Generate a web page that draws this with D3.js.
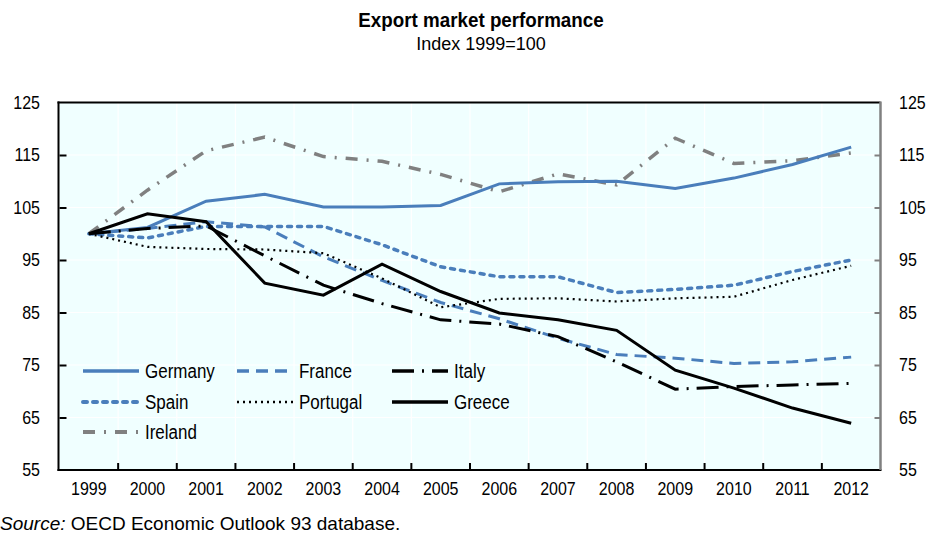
<!DOCTYPE html>
<html>
<head>
<meta charset="utf-8">
<script src="https://cdn.jsdelivr.net/npm/d3@7"></script>
<style>
  html, body { margin: 0; padding: 0; background: #ffffff; }
  svg { display: block; font-family: "Liberation Sans", Arial, sans-serif; }
</style>
</head>
<body>
<svg id="chart" width="930" height="542"></svg>
<script>
// ---- Data ----
const years = ["1999","2000","2001","2002","2003","2004","2005","2006","2007","2008","2009","2010","2011","2012"];
const germany  = [100, 101.2, 106.2, 107.5, 105.1, 105.1, 105.4, 109.5, 109.9, 110.0, 108.6, 110.6, 113.2, 116.5];
const france   = [100, 101.0, 102.3, 101.3, 95.6, 91.1, 86.9, 83.8, 80.1, 77.0, 76.3, 75.3, 75.6, 76.5];
const italy    = [100, 101.0, 101.5, 95.8, 90.2, 86.7, 83.6, 82.8, 80.4, 75.6, 70.4, 70.9, 71.2, 71.5];
const spain    = [100, 99.2, 101.4, 101.4, 101.4, 97.9, 93.7, 91.8, 91.8, 88.8, 89.4, 90.2, 92.8, 95.0];
const portugal = [100, 97.5, 97.1, 97.0, 96.3, 91.5, 86.0, 87.6, 87.7, 87.1, 87.7, 88.0, 91.2, 93.9];
const greece   = [100, 103.8, 102.3, 90.6, 88.3, 94.2, 89.0, 84.9, 83.6, 81.6, 74.0, 70.6, 66.8, 63.9];
const ireland  = [100, 108.3, 115.8, 118.4, 114.7, 113.8, 111.3, 108.0, 111.4, 109.3, 118.2, 113.4, 113.9, 115.4];
const yTicks   = [55, 65, 75, 85, 95, 105, 115, 125];
const titleText = "Export market performance";
const subtitleText = "Index 1999=100";

const series = [
  { name: "Ireland",  values: ireland,  color: "#808080", width: 3.5, dash: "12,9,2,9", cap: "butt" },
  { name: "Germany",  values: germany,  color: "#4A7EBB", width: 3,   dash: null,        cap: "butt" },
  { name: "France",   values: france,   color: "#4A7EBB", width: 3,   dash: "12,7",      cap: "butt" },
  { name: "Spain",    values: spain,    color: "#4A7EBB", width: 3.5, dash: "4,6",       cap: "round" },
  { name: "Portugal", values: portugal, color: "#000000", width: 2.2, dash: "2,4",       cap: "butt" },
  { name: "Italy",    values: italy,    color: "#000000", width: 3,   dash: "22,8,2,8",  cap: "butt" },
  { name: "Greece",   values: greece,   color: "#000000", width: 3,   dash: null,        cap: "butt" }
];
const legendOrder = ["Germany","France","Italy","Spain","Portugal","Greece","Ireland"];

// ---- Layout ----
const svg = d3.select("#chart");
const L = 59.5, R = 880.5, T = 102.5, B = 470;
const x = d3.scaleBand().domain(years).range([L, R]).padding(0);
const y = d3.scaleLinear().domain([55, 125]).range([B, T]);
const bw = x.bandwidth();
const K = 1.15; // vertical stretch of the reference's chart text

function stretchedText(g, tx, ty, txt, opts) {
  const t = g.append("text")
    .attr("transform", `translate(${tx},${ty}) scale(1,${opts.k || K})`)
    .attr("x", 0).attr("y", 0)
    .attr("dy", opts.dy || "0.35em")
    .attr("text-anchor", opts.anchor || "start")
    .attr("font-size", opts.size || 16)
    .attr("fill", "#000")
    .text(txt);
  if (opts.weight) t.attr("font-weight", opts.weight);
  return t;
}

// plot background
svg.append("rect").attr("x", L).attr("y", T).attr("width", R - L).attr("height", B - T).attr("fill", "#F0FFFF");

// gridlines
const grid = svg.append("g");
grid.selectAll("line.h").data(yTicks.slice(1, -1)).join("line")
  .attr("x1", L).attr("x2", R).attr("y1", d => y(d)).attr("y2", d => y(d))
  .attr("stroke", "#ffffff").attr("stroke-width", 1.2);
grid.selectAll("line.v").data(years.slice(1)).join("line")
  .attr("x1", d => x(d)).attr("x2", d => x(d)).attr("y1", T).attr("y2", B)
  .attr("stroke", "#ffffff").attr("stroke-width", 1.2);

// axes (ticks drawn inward, through d3 axis generators)
const leftAxis = svg.append("g").attr("transform", `translate(${L},0)`)
  .call(d3.axisLeft(y).tickValues(yTicks.slice(1, -1)).tickSize(-7).tickFormat(""));
leftAxis.select(".domain").remove();
leftAxis.selectAll(".tick line").attr("stroke", "#000").attr("stroke-width", 2);

const rightAxis = svg.append("g").attr("transform", `translate(${R},0)`)
  .call(d3.axisRight(y).tickValues(yTicks.slice(1, -1)).tickSize(-6).tickFormat(""));
rightAxis.select(".domain").remove();
rightAxis.selectAll(".tick line").attr("stroke", "#808080").attr("stroke-width", 2);

// bottom ticks at category boundaries
const bottomTicks = svg.append("g");
bottomTicks.selectAll("line").data(years.slice(1)).join("line")
  .attr("x1", d => x(d)).attr("x2", d => x(d)).attr("y1", B).attr("y2", B - 7)
  .attr("stroke", "#000").attr("stroke-width", 2);

// lines
const line = d3.line().x((d, i) => x(years[i]) + bw / 2).y(d => y(d));
const lines = svg.append("g");
series.forEach(s => {
  const p = lines.append("path").datum(s.values)
    .attr("d", line)
    .attr("fill", "none")
    .attr("stroke", s.color)
    .attr("stroke-width", s.width)
    .attr("stroke-linecap", s.cap)
    .attr("stroke-linejoin", "miter");
  if (s.dash) p.attr("stroke-dasharray", s.dash);
});

// frame
svg.append("line").attr("x1", L - 1).attr("x2", L - 1).attr("y1", T - 1).attr("y2", B + 1).attr("stroke", "#000").attr("stroke-width", 2);
svg.append("line").attr("x1", L - 2).attr("x2", R).attr("y1", T).attr("y2", T).attr("stroke", "#000").attr("stroke-width", 2);
svg.append("line").attr("x1", L - 2).attr("x2", R + 1).attr("y1", B).attr("y2", B).attr("stroke", "#000").attr("stroke-width", 2);
svg.append("line").attr("x1", R).attr("x2", R).attr("y1", T - 1).attr("y2", B).attr("stroke", "#808080").attr("stroke-width", 2.5);

// tick labels
const labels = svg.append("g");
yTicks.forEach(v => {
  stretchedText(labels, 40, y(v), String(v), { anchor: "end", size: 16 });
  stretchedText(labels, 899, y(v), String(v), { anchor: "start", size: 16 });
});
years.forEach(yr => {
  stretchedText(labels, x(yr) + bw / 2, 489, yr, { anchor: "middle", size: 16 });
});

// legend
const legend = svg.append("g");
const colX = [83, 237, 392];
const rowY = [371, 402, 432];
legendOrder.forEach((name, i) => {
  const s = series.find(d => d.name === name);
  const cx = colX[i % 3], cy = rowY[Math.floor(i / 3)];
  const l = legend.append("line")
    .attr("x1", cx).attr("x2", cx + 56).attr("y1", cy).attr("y2", cy)
    .attr("stroke", s.color).attr("stroke-width", s.width + 0.5)
    .attr("stroke-linecap", s.cap);
  if (s.dash) l.attr("stroke-dasharray", s.dash);
  stretchedText(legend, cx + 62, cy, name, { anchor: "start", size: 17 });
});

// titles
stretchedText(svg, 481, 20, titleText, { anchor: "middle", size: 18.8, weight: "bold", k: 1.1 });
stretchedText(svg, 481, 43, subtitleText, { anchor: "middle", size: 18, k: 1.05 });

// source
const src = svg.append("text").attr("x", 0).attr("y", 530).attr("font-size", 19).attr("fill", "#000");
src.append("tspan").attr("font-style", "italic").text("Source:");
src.append("tspan").text(" OECD Economic Outlook 93 database.");
</script>
</body>
</html>
